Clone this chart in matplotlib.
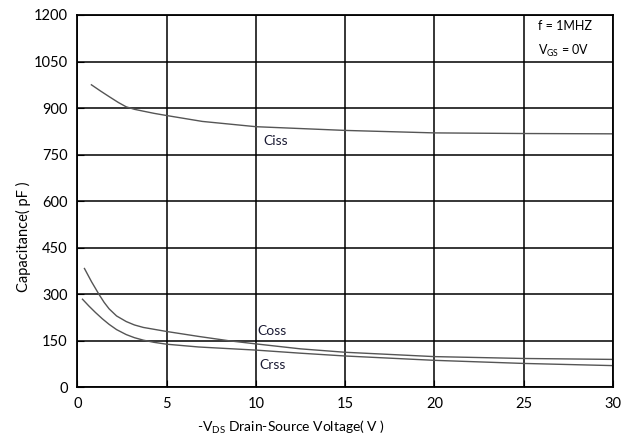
import matplotlib
matplotlib.use('Agg')
import matplotlib.pyplot as plt

plt.rcParams['font.family'] = ['Lato', 'DejaVu Sans']
plt.rcParams['mathtext.fontset'] = 'custom'
plt.rcParams['mathtext.rm'] = 'Lato'

# valores (Vds em V, capacitância em pF)
vds_ciss = [0.79, 1.3, 1.78, 2.3, 2.74, 3.2, 3.7, 4.3, 5.0, 7.0, 10.0, 15.0, 20.0, 25.0, 30.0]
ciss = [975, 955, 937, 918, 904, 896, 890, 883, 876, 857, 840, 828, 820, 818, 817]

vds_coss = [0.4, 0.8, 1.21, 1.5, 1.78, 2.2, 2.74, 3.2, 3.7, 4.3, 5.0, 6.8, 8.5, 10.0, 12.5, 15.0, 20.0, 25.0, 30.0]
coss = [383, 340, 300, 274, 253, 230, 212, 201, 193, 187, 180, 164, 150, 140, 124, 113, 99, 93, 90]

vds_crss = [0.29, 0.65, 1.02, 1.4, 1.78, 2.2, 2.74, 3.2, 3.7, 4.3, 5.0, 6.8, 10.0, 12.5, 15.0, 20.0, 25.0, 30.0]
crss = [284, 262, 241, 221, 203, 186, 170, 160, 152, 145, 139, 130, 120, 110, 101, 87, 77, 70]

xticks = [0, 5, 10, 15, 20, 25, 30]
yticks = [0, 150, 300, 450, 600, 750, 900, 1050, 1200]

fig = plt.figure(figsize=(6.28, 4.41), dpi=100)
ax = fig.add_axes([0.1231, 0.1217, 0.8530, 0.8443])

cor = '#555555'
ax.plot(vds_ciss, ciss, color=cor, lw=1.0)
ax.plot(vds_coss, coss, color=cor, lw=1.0)
ax.plot(vds_crss, crss, color=cor, lw=1.0)

ax.text(10.4, 793, 'Ciss', fontsize=10, color='#1a1a33', ha='left', va='center')
ax.text(10.1, 182, 'Coss', fontsize=10, color='#1a1a33', ha='left', va='center')
ax.text(10.2, 72, 'Crss', fontsize=10, color='#1a1a33', ha='left', va='center')

ax.text(25.8, 1163, 'f = 1MHZ', fontsize=9, ha='left', va='center')
ax.text(25.8, 1085, r'V$_{\mathrm{GS}}$ = 0V', fontsize=9, ha='left', va='center')

ax.set_xlim(0, 30)
ax.set_ylim(0, 1200)
ax.set_xticks(xticks)
ax.set_yticks(yticks)
ax.tick_params(direction='in', length=5, labelsize=10.5, pad=7, colors='black')
ax.grid(True, color='black', lw=1.1)
for s in ax.spines.values():
    s.set_linewidth(1.3)

fig.text(0.038, 0.463, 'Capacitance( pF )', rotation=90, fontsize=10.5,
         ha='center', va='center')
fig.text(0.464, 0.032, r'-V$_{\mathrm{DS}}$ Drain-Source Voltage( V )', fontsize=10,
         ha='center', va='center')

plt.savefig('out.png', dpi=100)
plt.close()
